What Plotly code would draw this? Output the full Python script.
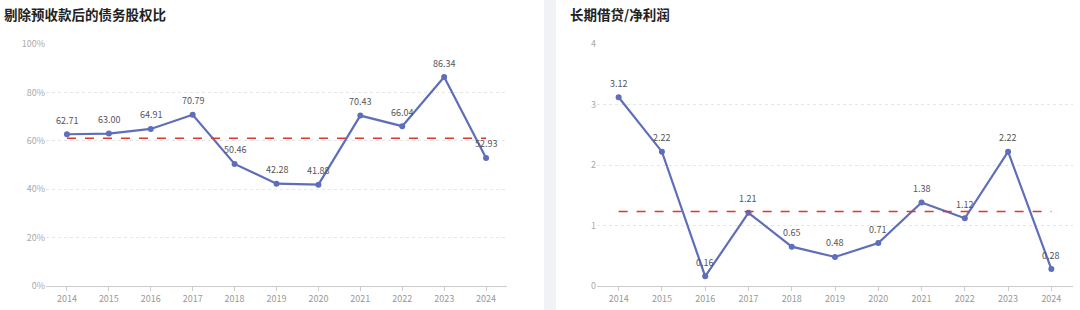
import plotly.graph_objects as go

years = ["2014", "2015", "2016", "2017", "2018", "2019", "2020", "2021", "2022", "2023", "2024"]
debt_equity = [62.71, 63.00, 64.91, 70.79, 50.46, 42.28, 41.88, 70.43, 66.04, 86.34, 52.93]
loan_profit = [3.12, 2.22, 0.16, 1.21, 0.65, 0.48, 0.71, 1.38, 1.12, 2.22, 0.28]
title_left = "剔除预收款后的债务股权比"
title_right = "长期借贷/净利润"

avg_left = sum(debt_equity) / len(debt_equity)
avg_right = sum(loan_profit) / len(loan_profit)

LINE = "#5f6eb9"
RED = "#d93a2b"
FONT = "Noto Sans CJK SC"

fig = go.Figure()

fig.add_trace(go.Scatter(
    x=years, y=debt_equity, mode="lines+markers",
    line=dict(color=LINE, width=2.2), marker=dict(size=6, color=LINE),
    xaxis="x", yaxis="y", showlegend=False, cliponaxis=False))
fig.add_trace(go.Scatter(
    x=[years[0], years[-1]], y=[avg_left, avg_left], mode="lines",
    line=dict(color=RED, width=1.5, dash="dash"),
    xaxis="x", yaxis="y", showlegend=False))

fig.add_trace(go.Scatter(
    x=years, y=loan_profit, mode="lines+markers",
    line=dict(color=LINE, width=2.2), marker=dict(size=6, color=LINE),
    xaxis="x2", yaxis="y2", showlegend=False, cliponaxis=False))
fig.add_trace(go.Scatter(
    x=[years[0], years[-1]], y=[avg_right, avg_right], mode="lines",
    line=dict(color=RED, width=1.5, dash="dash"),
    xaxis="x2", yaxis="y2", showlegend=False))

label_font = dict(size=9, color="#555555", family=FONT)
annotations = []
for i, v in enumerate(debt_equity):
    annotations.append(dict(x=i, y=v, xref="x", yref="y", text=f"{v:.2f}",
                            showarrow=False, yanchor="middle", yshift=14,
                            font=label_font))
for i, v in enumerate(loan_profit):
    annotations.append(dict(x=i, y=v, xref="x2", yref="y2", text=f"{v:.2f}",
                            showarrow=False, yanchor="middle", yshift=14,
                            font=label_font))

annotations += [
    dict(text=f"<b>{title_left}</b>", xref="paper", yref="paper",
         x=2 / 1080, y=1 - 2 / 310, xanchor="left", yanchor="top",
         showarrow=False, font=dict(size=13.5, color="#222222", family=FONT)),
    dict(text=f"<b>{title_right}</b>", xref="paper", yref="paper",
         x=568 / 1080, y=1 - 2 / 310, xanchor="left", yanchor="top",
         showarrow=False, font=dict(size=13.5, color="#222222", family=FONT)),
]

ydom = [(310 - 286) / 310, (310 - 44) / 310]
xcommon = dict(type="category", range=[-0.5, 10.5], showgrid=False,
               showline=True, linecolor="#cccccc", linewidth=1,
               ticks="outside", ticklen=4, tickcolor="#cccccc",
               tickfont=dict(size=9, color="#999999", family=FONT),
               zeroline=False, fixedrange=True, automargin=False)
ycommon = dict(showgrid=True, gridcolor="#e6e6e6", griddash="dot", gridwidth=1,
               zeroline=False, showline=False, ticks="", automargin=False,
               tickfont=dict(size=9, color="#aaaaaa", family=FONT),
               domain=ydom)

fig.update_layout(
    width=1080, height=310,
    margin=dict(l=0, r=0, t=0, b=0, pad=0, autoexpand=False),
    paper_bgcolor="white", plot_bgcolor="white",
    font=dict(family=FONT),
    xaxis=dict(domain=[46 / 1080, 507 / 1080], anchor="y", **xcommon),
    yaxis=dict(anchor="x", range=[0, 100], tickvals=[0, 20, 40, 60, 80, 100],
               ticktext=["0%", "20%", "40%", "60%", "80%", "100%"], **ycommon),
    xaxis2=dict(domain=[597 / 1080, 1073 / 1080], anchor="y2", **xcommon),
    yaxis2=dict(anchor="x2", range=[0, 4], tickvals=[0, 1, 2, 3, 4], **ycommon),
    shapes=[dict(type="rect", xref="paper", yref="paper",
                 x0=544 / 1080, x1=556 / 1080, y0=0, y1=1,
                 fillcolor="#f0f2f5", line=dict(width=0), layer="below")],
    annotations=annotations,
)

fig.write_html("out.html")
